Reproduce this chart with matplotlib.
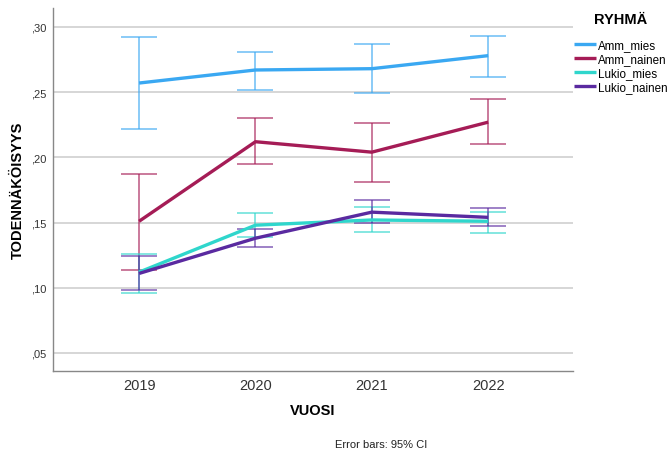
import numpy as np
import matplotlib.pyplot as plt

plt.rcParams['font.family'] = ['Liberation Sans', 'DejaVu Sans']

# data
years = [2019, 2020, 2021, 2022]
groups = ['Amm_mies', 'Amm_nainen', 'Lukio_mies', 'Lukio_nainen']

amm_mies = [0.257, 0.267, 0.268, 0.278]
amm_mies_lo = [0.222, 0.252, 0.249, 0.262]
amm_mies_hi = [0.292, 0.281, 0.287, 0.293]

amm_nainen = [0.151, 0.212, 0.204, 0.227]
amm_nainen_lo = [0.114, 0.195, 0.181, 0.210]
amm_nainen_hi = [0.187, 0.230, 0.226, 0.245]

lukio_mies = [0.112, 0.148, 0.152, 0.151]
lukio_mies_lo = [0.096, 0.139, 0.143, 0.142]
lukio_mies_hi = [0.126, 0.157, 0.162, 0.158]

lukio_nainen = [0.111, 0.138, 0.158, 0.154]
lukio_nainen_lo = [0.098, 0.131, 0.150, 0.147]
lukio_nainen_hi = [0.124, 0.145, 0.167, 0.161]

colors = ['#3aa8f2', '#a51c56', '#2fd6cc', '#5a2aa0']
means = [amm_mies, amm_nainen, lukio_mies, lukio_nainen]
lows = [amm_mies_lo, amm_nainen_lo, lukio_mies_lo, lukio_nainen_lo]
highs = [amm_mies_hi, amm_nainen_hi, lukio_mies_hi, lukio_nainen_hi]

fig = plt.figure(figsize=(6.68, 4.52), dpi=100)
ax = fig.add_axes([0.0793, 0.177, 0.7787, 0.803])

x = np.arange(len(years))
for name, m, lo, hi, c in zip(groups, means, lows, highs, colors):
    m = np.array(m)
    err = [m - np.array(lo), np.array(hi) - m]
    ax.errorbar(x, m, yerr=err, fmt='none', ecolor=c, elinewidth=1.1,
                capsize=13, capthick=1.1, alpha=0.75, zorder=3)
    ax.plot(x, m, color=c, lw=2.4, label=name, zorder=4, solid_capstyle='butt')

ax.set_xlim(-0.74, 3.73)
ax.set_ylim(0.0362, 0.3145)
ax.set_xticks(x)
ax.set_xticklabels([str(y) for y in years], fontsize=10.5, color='#333333')
ax.set_yticks([0.05, 0.10, 0.15, 0.20, 0.25, 0.30])
ax.set_yticklabels([',05', ',10', ',15', ',20', ',25', ',30'], fontsize=8, color='#333333')
ax.tick_params(length=0, pad=5)
ax.yaxis.grid(True, color='#d0d0d0', lw=1.2)
ax.set_axisbelow(True)
for s in ['top', 'right']:
    ax.spines[s].set_visible(False)
for s in ['left', 'bottom']:
    ax.spines[s].set_color('#888888')
    ax.spines[s].set_linewidth(1.0)

ax.set_ylabel('TODENNÄKÖISYYS', fontsize=10.5, fontweight='bold', labelpad=4)
ax.set_xlabel('VUOSI', fontsize=10.5, fontweight='bold', labelpad=8)
fig.text(0.57, 0.008, 'Error bars: 95% CI', fontsize=8, ha='center', color='#222222')

# legend title placed separately to get the wider gap
fig.text(621 / 668, 1 - 20 / 452, 'RYHMÄ', fontsize=10.5, fontweight='bold',
         ha='center', va='center')
leg = ax.legend(loc='upper left', bbox_to_anchor=(0.997, 0.92), frameon=False,
                fontsize=8.4, handlelength=1.9, handletextpad=0.2,
                labelspacing=0.15, borderaxespad=0, borderpad=0.2)

fig.savefig('out.png', dpi=100)
